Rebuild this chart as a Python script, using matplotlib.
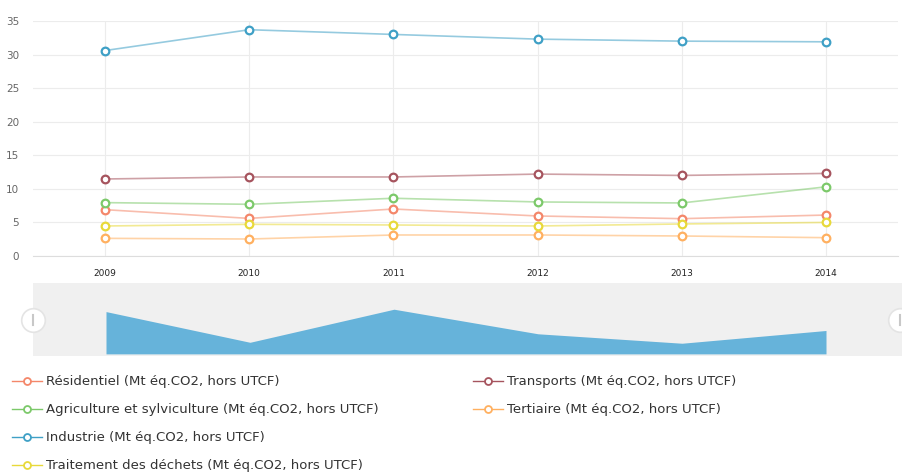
import matplotlib.pyplot as plt
from matplotlib.lines import Line2D

years = [2009, 2010, 2011, 2012, 2013, 2014]

residentiel = [6.9, 5.6, 7.0, 5.96, 5.56, 6.1]
transports = [11.47, 11.77, 11.77, 12.2, 12.0, 12.3]
agriculture = [7.95, 7.7, 8.6, 8.05, 7.9, 10.3]
tertiaire = [2.63, 2.53, 3.13, 3.13, 2.98, 2.73]
industrie = [30.6, 33.7, 33.0, 32.3, 32.0, 31.9]
dechets = [4.47, 4.72, 4.62, 4.47, 4.77, 5.0]

unit = " (Mt éq.CO2, hors UTCF)"
names = ["Résidentiel", "Transports", "Agriculture et sylviculture",
         "Tertiaire", "Industrie", "Traitement des déchets"]
series = [residentiel, transports, agriculture, tertiaire, industrie, dechets]
colors = ["#f4876a", "#a6545e", "#7cc96a", "#ffb060", "#3fa0c6", "#e8d93a"]

W, H = 902, 475
fig = plt.figure(figsize=(W / 100, H / 100), dpi=100)


def box(x0, y0, x1, y1):
    # pixel box (top-left origin) -> figure fraction rect
    return [x0 / W, 1 - y1 / H, (x1 - x0) / W, (y1 - y0) / H]


# main chart
ax = fig.add_axes(box(33, 21, 898, 256))
for vals, c in zip(series, colors):
    ax.plot(years, vals, color=c, lw=1.2, alpha=0.55, zorder=2)
    ax.plot(years, vals, ls="none", marker="o", ms=5.5, mfc="white",
            mec=c, mew=1.6, zorder=3)

ax.set_xlim(2008.5, 2014.5)
ax.set_ylim(0, 35)
ax.set_yticks(range(0, 36, 5))
ax.set_xticks(years)
ax.grid(True, color="#ececec", lw=0.8)
ax.set_axisbelow(True)
for s in ["top", "right", "left"]:
    ax.spines[s].set_visible(False)
ax.spines["bottom"].set_color("#dddddd")
ax.tick_params(axis="y", length=0, pad=10, labelsize=7.5, labelcolor="#666666")
ax.tick_params(axis="x", length=0, pad=9, labelsize=6.5, labelcolor="#222222")

# navigator
nav = fig.add_axes(box(33, 283, 902, 356))
nav.set_facecolor("#f0f0f0")
px = 144.0
nav.set_xlim(2009 - 73 / px, 2014 + 76 / px)
nav.set_ylim(5.02, 8.11)
nav.fill_between(years, residentiel, 5.11, color="#66b3da", lw=0)
nav.set_xticks([])
nav.set_yticks([])
for s in nav.spines.values():
    s.set_visible(False)

# navigator handles
for hx in [33, 900]:
    fig.add_artist(Line2D([hx / W], [1 - 320 / H], ls="none", marker="o", ms=17,
                          mfc="white", mec="#e4e4e4", mew=1.2, zorder=5))
    fig.add_artist(Line2D([hx / W, hx / W], [1 - 315 / H, 1 - 325 / H],
                          color="#c8c8c8", lw=1.5, zorder=6))

# legend
slots = [(12, 381), (473, 381), (12, 409), (473, 409), (12, 437), (12, 465)]
for (x0, yp), n, c in zip(slots, names, colors):
    y = 1 - yp / H
    fig.add_artist(Line2D([x0 / W, (x0 + 30) / W], [y, y], color=c, lw=1.0))
    fig.add_artist(Line2D([(x0 + 15) / W], [y], ls="none", marker="o", ms=5,
                          mfc="white", mec=c, mew=1.3))
    fig.text((x0 + 34) / W, y, n + unit, fontsize=9.5, color="#333333",
             va="center", ha="left")

fig.savefig("out.png", dpi=100)
